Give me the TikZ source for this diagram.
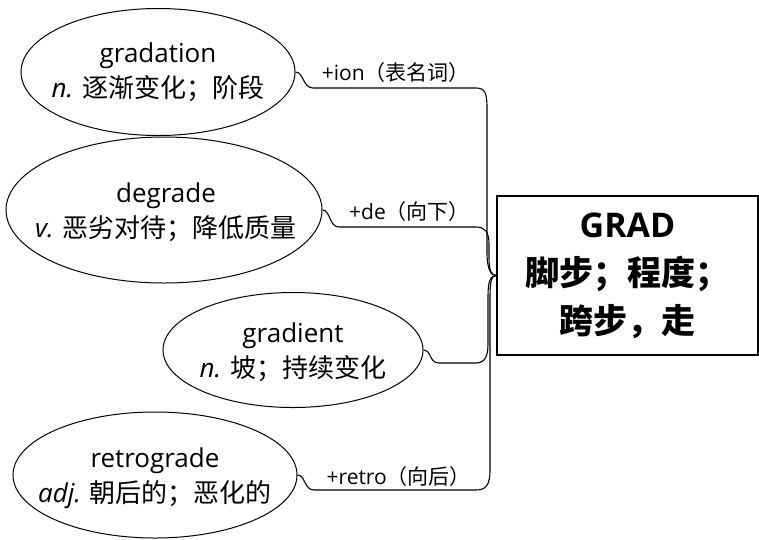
\documentclass[tikz,border=0pt]{standalone}
\usepackage{fontspec}
\setmainfont{Open Sans}
\newfontfamily\cjk{Noto Sans CJK SC}
\usepackage{tikz}
\usetikzlibrary{shapes.geometric,calc}

\begin{document}
\begin{tikzpicture}[x=1pt,y=-1pt,
    motbulle/.style={draw,ellipse,line width=1pt,inner sep=0pt},
    mottexte/.style={align=center,font=\fontsize{26}{35}\selectfont},
    lien/.style={line width=1.1pt},
    affixe/.style={anchor=east,inner sep=0pt,font=\fontsize{21}{24}\selectfont}]
  \useasboundingbox (0,0) rectangle (759,539);
  % racine
  \node[draw,line width=1.6pt,minimum width=261pt,minimum height=159pt,inner sep=0pt,
        align=center,font=\fontsize{34}{48}\selectfont\bfseries] (grad) at (627.5,275.5)
        {GRAD\\{\cjk 脚步；程度；}\\{\cjk 跨步，走}};
  % mots
  \node[motbulle,minimum width=274pt,minimum height=127pt] (gradation) at (158,72) {};
  \node[mottexte] (gradation-t) at (158,72) {gradation\\\textit{n.} {\cjk 逐渐变化；阶段}};
  \node[motbulle,minimum width=316pt,minimum height=146pt] (degrade) at (164,210) {};
  \node[mottexte] (degrade-t) at (166,212) {degrade\\\textit{v.} {\cjk 恶劣对待；降低质量}};
  \node[motbulle,minimum width=260pt,minimum height=115pt] (gradient) at (293,350) {};
  \node[mottexte] (gradient-t) at (293,352) {gradient\\\textit{n.} {\cjk 坡；持续变化}};
  \node[motbulle,minimum width=284pt,minimum height=126pt] (retrograde) at (155,475) {};
  \node[mottexte] (retrograde-t) at (155,478) {retrograde\\\textit{adj.} {\cjk 朝后的；恶化的}};
  % liens
  \draw[lien] (gradation.east) .. controls +(8,0) and +(-10,0) .. (313,88) -- (476,88)
    .. controls +(9,0) and +(0,-15) .. (487,108) -- (487,252) .. controls +(0,16) and +(-6,0) .. (grad.west);
  \draw[lien] (degrade.east) .. controls +(8,0) and +(-10,0) .. (339,227) -- (476,227)
    .. controls +(9,0) and +(0,-12) .. (489,244) -- (489,258) .. controls +(0,12) and +(-5,0) .. (grad.west);
  \draw[lien] (gradient.east) .. controls +(8,0) and +(-10,0) .. (439,363) -- (476,363)
    .. controls +(9,0) and +(0,12) .. (488,344) -- (488,296) .. controls +(0,-14) and +(-6,0) .. (grad.west);
  \draw[lien] (retrograde.east) .. controls +(8,0) and +(-10,0) .. (314,490) -- (476,490)
    .. controls +(10,0) and +(0,15) .. (490,470) -- (490,298) .. controls +(0,-16) and +(-5,0) .. (grad.west);
  % affixes
  \node[affixe] (ion) at (470,73) {+ion{\cjk（表名词）}};
  \node[affixe] (de) at (470,212) {+de{\cjk（向下）}};
  \node[affixe] (retro) at (471,477) {+retro{\cjk（向后）}};
\end{tikzpicture}
\end{document}
